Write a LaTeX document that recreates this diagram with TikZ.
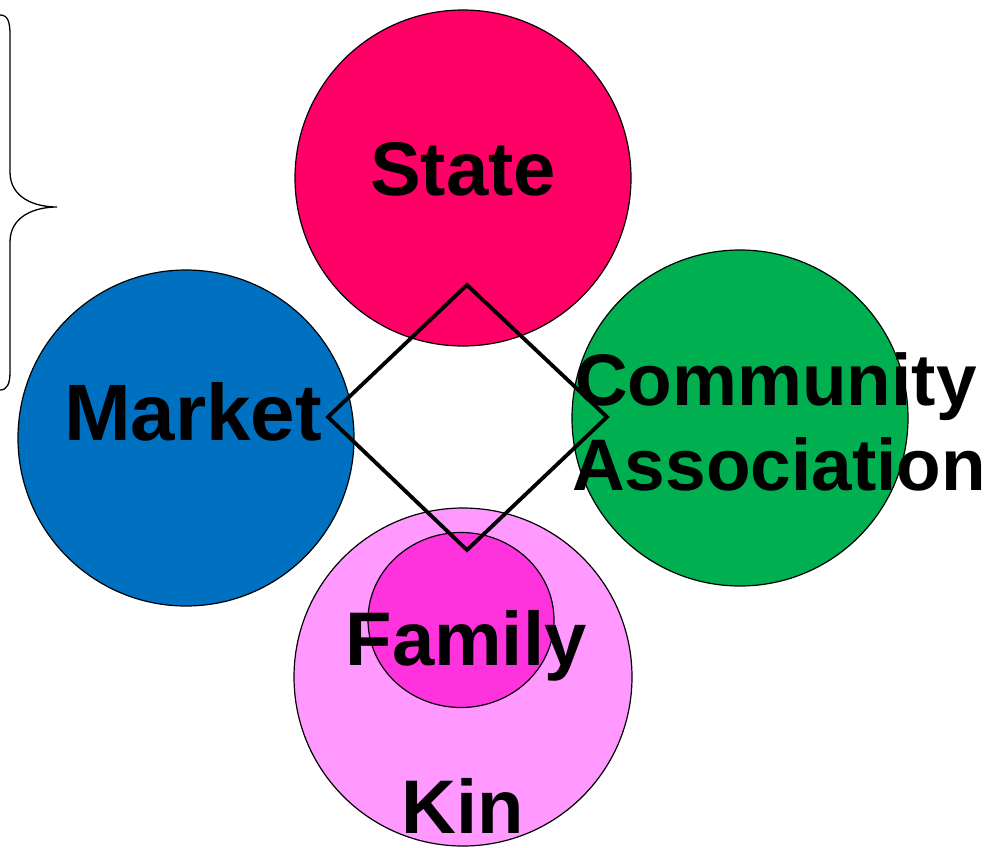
\documentclass[tikz,border=0pt]{standalone}
\usepackage{fontspec}
\setmainfont{Liberation Sans}
\usetikzlibrary{positioning,shapes.geometric}

\definecolor{stateRed}{HTML}{FF0066}
\definecolor{marketBlue}{HTML}{0070C0}
\definecolor{communityGreen}{HTML}{00B050}
\definecolor{kinPink}{HTML}{FF99FF}
\definecolor{familyPink}{HTML}{FF33DD}

\tikzset{
  sector/.style={circle, draw=black, line width=1.2pt, minimum size=336pt, inner sep=0pt},
  label text/.style={font=\bfseries\fontsize{76}{85}\selectfont, inner sep=0pt, anchor=base},
  link/.style={draw=black, line width=3.8pt, line join=miter},
}

\begin{document}
\begin{tikzpicture}[x=1pt, y=-1pt]
\useasboundingbox (0,0) rectangle (1003,847);

\node[sector, fill=stateRed] (State) at (463,178) {};
\node[sector, fill=marketBlue] (Market) at (186,438) {};
\node[sector, fill=communityGreen] (Community) at (740,418) {};
\node[sector, fill=kinPink, minimum size=338pt] (Kin) at (463,677) {};
\node[ellipse, draw=black, line width=1.2pt, fill=familyPink,
      minimum width=186pt, minimum height=175pt, inner sep=0pt] (Family) at (461,620) {};

\coordinate (top) at (467,285);
\coordinate (right) at (607,417);
\coordinate (bottom) at (467,550);
\coordinate (left) at (328,417);
\draw[link] (top) -- (right) -- (bottom) -- (left) -- cycle;

\node[label text] (State-text) at (463,195) {State};
\node[label text, font=\bfseries\fontsize{80}{85}\selectfont] (Market-text) at (193,440) {Market};
\node[label text, anchor=base west, font=\bfseries\fontsize{73}{85}\selectfont] (Community-text) at (575,405) {Community};
\node[label text, anchor=base west, font=\bfseries\fontsize{73}{85}\selectfont] (Association-text) at (572,490) {Association};
\node[label text] (Family-text) at (466,665) {Family};
\node[label text] (Kin-text) at (463,833) {Kin};

% brace
\draw[line width=1.3pt] (0,15) .. controls (8,15) and (10,22) .. (10,35)
  -- (10,172) .. controls (10,198) and (35,207) .. (57,207)
  .. controls (35,207) and (10,216) .. (10,242)
  -- (10,372) .. controls (10,384) and (7,390) .. (0,390);

\end{tikzpicture}
\end{document}
